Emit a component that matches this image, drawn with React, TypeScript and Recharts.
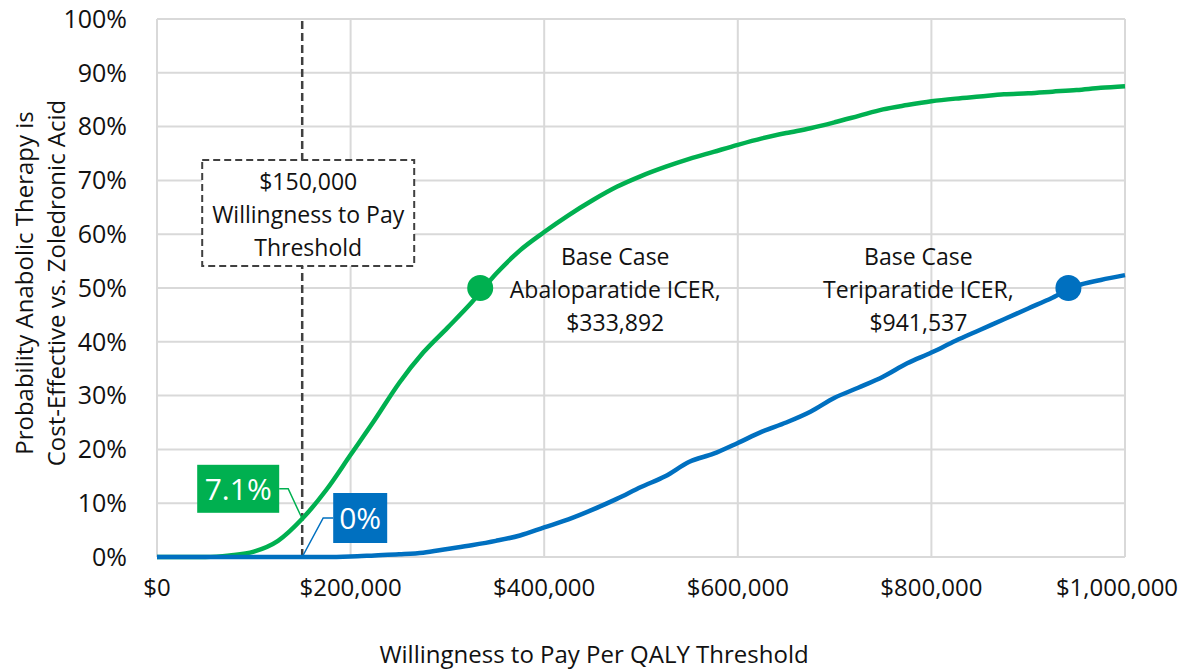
import React from 'react';
import {
  LineChart,
  Line,
  XAxis,
  YAxis,
  CartesianGrid,
  ReferenceLine,
  ReferenceDot,
} from 'recharts';

// ---- data ----
const wtpThresholds = [
  0, 25000, 50000, 75000, 100000, 125000, 150000, 175000, 200000, 225000,
  250000, 275000, 300000, 325000, 350000, 375000, 400000, 425000, 450000, 475000,
  500000, 525000, 550000, 575000, 600000, 625000, 650000, 675000, 700000, 725000,
  750000, 775000, 800000, 825000, 850000, 875000, 900000, 925000, 950000, 975000,
  1000000,
];
const abaloparatidePct = [
  0, 0, 0, 0.3, 1.0, 3.0, 7.1, 12.5, 19.0, 25.5,
  32.3, 38.0, 42.6, 47.3, 52.6, 57.0, 60.4, 63.5, 66.3, 68.8,
  70.8, 72.5, 74.0, 75.3, 76.6, 77.8, 78.8, 79.7, 80.8, 82.0,
  83.2, 84.0, 84.7, 85.2, 85.6, 86.0, 86.2, 86.5, 86.8, 87.2,
  87.5,
];
const teriparatidePct = [
  0, 0, 0, 0, 0, 0, 0, 0, 0.1, 0.3,
  0.5, 0.8, 1.5, 2.2, 3.0, 4.0, 5.5, 7.0, 8.8, 10.8,
  13.0, 15.0, 17.7, 19.2, 21.2, 23.3, 25.0, 27.0, 29.6, 31.5,
  33.5, 36.0, 38.0, 40.2, 42.2, 44.2, 46.2, 48.2, 50.4, 51.5,
  52.4,
];
const xTicks = [0, 200000, 400000, 600000, 800000, 1000000];
const yTicks = [0, 10, 20, 30, 40, 50, 60, 70, 80, 90, 100];

const thresholdWtp = 150000;
const abaloAtThreshold = 7.1;
const teriAtThreshold = 0;
const icerAbaloparatide = 333892;
const icerTeriparatide = 941537;
const icerProbability = 50;

const thresholdLines = ['$150,000', 'Willingness to Pay', 'Threshold'];
const abaloLines = ['Base Case', 'Abaloparatide ICER,', '$333,892'];
const teriLines = ['Base Case', 'Teriparatide ICER,', '$941,537'];
const xTitle = 'Willingness to Pay Per QALY Threshold';
const yTitleLines = ['Probability Anabolic Therapy is', 'Cost-Effective vs. Zoledronic Acid'];

const data = wtpThresholds.map((wtp, i) => ({
  wtp,
  abalo: abaloparatidePct[i],
  teri: teriparatidePct[i],
}));

const GREEN = '#00b050';
const BLUE = '#0070c0';
const FONT = "'Open Sans', sans-serif";
const TEXT = '#111';

const fmtMoney = (v: number) => '$' + v.toLocaleString('en-US');
const fmtPct = (v: number) => `${v}%`;

const XTick = (props: any) => {
  const { x, y, payload } = props;
  const last = payload.value === xTicks[xTicks.length - 1];
  return (
    <text x={x} y={y} dy="0.71em" dx={last ? -8 : 0} textAnchor="middle" fontSize={24} fill={TEXT} fontFamily={FONT}>
      {fmtMoney(payload.value)}
    </text>
  );
};

const XTitle = (props: any) => {
  const { viewBox } = props;
  const cx = viewBox.x + viewBox.width / 2 - 47;
  return (
    <text x={cx} y={viewBox.y + 106} textAnchor="middle" fontSize={24} fill={TEXT} fontFamily={FONT}>
      {xTitle}
    </text>
  );
};

const YTitle = (props: any) => {
  const { viewBox } = props;
  const cy = viewBox.y + viewBox.height / 2 - 5;
  return (
    <g transform={`translate(${viewBox.x + 25},${cy}) rotate(-90)`}>
      <text x={0} y={0} textAnchor="middle" fontSize={24} fill={TEXT} fontFamily={FONT}>
        {yTitleLines[0]}
      </text>
      <text x={0} y={32} textAnchor="middle" fontSize={24} fill={TEXT} fontFamily={FONT}>
        {yTitleLines[1]}
      </text>
    </g>
  );
};

const ThresholdBox = (props: any) => {
  const { viewBox } = props;
  const lx = viewBox.x;
  const top = viewBox.y;
  const bx = lx - 100;
  const by = top + 141;
  const bw = 212;
  const bh = 106;
  const cx = bx + bw / 2;
  return (
    <g>
      <rect x={bx} y={by} width={bw} height={bh} fill="#fff" stroke="#404040" strokeWidth={2} strokeDasharray="7 4" />
      {thresholdLines.map((t, i) => (
        <text key={i} x={cx} y={by + 30 + i * 33} textAnchor="middle" fontSize={23} fill={TEXT} fontFamily={FONT}>
          {t}
        </text>
      ))}
    </g>
  );
};

const GreenCallout = (props: any) => {
  const { cx, cy } = props;
  return (
    <g>
      <polyline points={`${cx - 23},${cy - 30} ${cx - 14},${cy - 30} ${cx},${cy}`} fill="none" stroke={GREEN} strokeWidth={1.5} />
      <rect x={cx - 105} y={cy - 54} width={82} height={48} fill={GREEN} />
      <text x={cx - 64} y={cy - 30} dy="0.36em" textAnchor="middle" fontSize={30} fill="#fff" fontFamily={FONT}>
        {`${abaloAtThreshold}%`}
      </text>
    </g>
  );
};

const BlueCallout = (props: any) => {
  const { cx, cy } = props;
  return (
    <g>
      <polyline points={`${cx + 31},${cy - 39} ${cx + 21},${cy - 39} ${cx},${cy}`} fill="none" stroke={BLUE} strokeWidth={1.5} />
      <rect x={cx + 31} y={cy - 64} width={54} height={50} fill={BLUE} />
      <text x={cx + 58} y={cy - 39} dy="0.36em" textAnchor="middle" fontSize={30} fill="#fff" fontFamily={FONT}>
        {`${teriAtThreshold}%`}
      </text>
    </g>
  );
};

const makeIcerDot = (color: string, lines: string[], dx: number) => (props: any) => {
  const { cx, cy } = props;
  return (
    <g>
      <circle cx={cx} cy={cy} r={13} fill={color} />
      {lines.map((t, i) => (
        <text key={i} x={cx + dx} y={cy - 23 + i * 33} textAnchor="middle" fontSize={23} fill={TEXT} fontFamily={FONT}>
          {t}
        </text>
      ))}
    </g>
  );
};

const AbaloDot = makeIcerDot(GREEN, abaloLines, 135);
const TeriDot = makeIcerDot(BLUE, teriLines, -150);

export default function App() {
  return (
    <div style={{ width: 1175, height: 670, marginTop: -8, fontFamily: FONT }}>
      <LineChart
        width={1175}
        height={670}
        data={data}
        margin={{ top: 19, right: 58, bottom: 0, left: 0 }}
      >
        <CartesianGrid stroke="#d9d9d9" strokeWidth={2} />
        <XAxis
          dataKey="wtp"
          type="number"
          domain={[0, 1000000]}
          ticks={xTicks}
          tick={<XTick />}
          tickLine={false}
          axisLine={false}
          tickSize={0}
          tickMargin={22}
          height={113}
          label={<XTitle />}
        />
        <YAxis
          type="number"
          domain={[0, 100]}
          ticks={yTicks}
          tickFormatter={fmtPct}
          tick={{ fontSize: 25, fill: TEXT, fontFamily: FONT }}
          tickLine={false}
          axisLine={false}
          tickSize={0}
          tickMargin={30}
          width={149}
          label={<YTitle />}
        />
        <ReferenceLine
          x={thresholdWtp}
          stroke="#404040"
          strokeWidth={2.5}
          strokeDasharray="8 4"
          label={<ThresholdBox />}
        />
        <Line
          type="monotone"
          dataKey="abalo"
          stroke={GREEN}
          strokeWidth={4.5}
          dot={false}
          activeDot={false}
          isAnimationActive={false}
        />
        <Line
          type="monotone"
          dataKey="teri"
          stroke={BLUE}
          strokeWidth={4.5}
          dot={false}
          activeDot={false}
          isAnimationActive={false}
        />
        <ReferenceDot x={thresholdWtp} y={abaloAtThreshold} r={0} shape={<GreenCallout />} />
        <ReferenceDot x={thresholdWtp} y={teriAtThreshold} r={0} shape={<BlueCallout />} />
        <ReferenceDot x={icerAbaloparatide} y={icerProbability} r={13} shape={<AbaloDot />} />
        <ReferenceDot x={icerTeriparatide} y={icerProbability} r={13} shape={<TeriDot />} />
      </LineChart>
    </div>
  );
}
